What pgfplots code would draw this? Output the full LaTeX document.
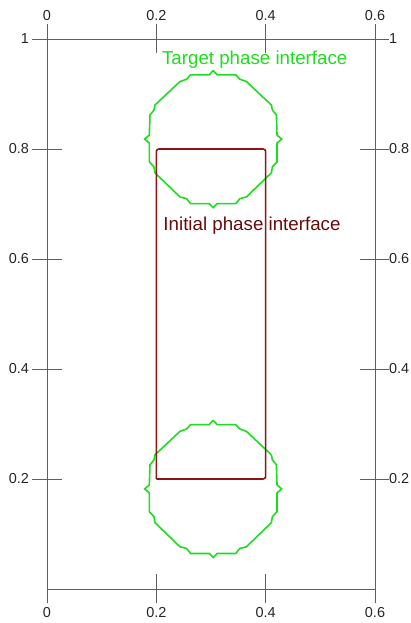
\documentclass[border=0pt]{standalone}
\usepackage{pgfplots}
\pgfplotsset{compat=1.18}
\usepackage{fontspec}
\setmainfont{Liberation Sans}
\definecolor{tgreen}{RGB}{30,220,30}
\definecolor{iline}{RGB}{140,20,20}
\definecolor{itext}{RGB}{105,10,10}
\definecolor{axgray}{RGB}{95,95,95}
\pgfplotstableread{
x y
0.304 0.3067
0.3113 0.2988
0.3454 0.2988
0.3527 0.2909
0.3648 0.2866
0.4104 0.2440
0.4123 0.2349
0.4196 0.2258
0.4208 0.1893
0.4293 0.1820
0.4208 0.1747
0.4208 0.1406
0.4123 0.1315
0.4104 0.1206
0.3648 0.0768
0.3527 0.0737
0.3454 0.0646
0.3113 0.0646
0.304 0.0573
0.2967 0.0646
0.2626 0.0646
0.2553 0.0737
0.2432 0.0768
0.1976 0.1206
0.1957 0.1315
0.1872 0.1406
0.1872 0.1747
0.1787 0.1820
0.1872 0.1893
0.1884 0.2258
0.1957 0.2349
0.1976 0.2440
0.2432 0.2866
0.2553 0.2909
0.2626 0.2988
0.2967 0.2988
0.304 0.3067
}\lowercircle
\pgfplotstableread{
x y
0.304 0.9427
0.3113 0.9348
0.3454 0.9348
0.3527 0.9269
0.3648 0.9226
0.4104 0.8800
0.4123 0.8709
0.4196 0.8618
0.4208 0.8253
0.4293 0.8180
0.4208 0.8107
0.4208 0.7766
0.4123 0.7675
0.4104 0.7566
0.3648 0.7128
0.3527 0.7097
0.3454 0.7006
0.3113 0.7006
0.304 0.6933
0.2967 0.7006
0.2626 0.7006
0.2553 0.7097
0.2432 0.7128
0.1976 0.7566
0.1957 0.7675
0.1872 0.7766
0.1872 0.8107
0.1787 0.8180
0.1872 0.8253
0.1884 0.8618
0.1957 0.8709
0.1976 0.8800
0.2432 0.9226
0.2553 0.9269
0.2626 0.9348
0.2967 0.9348
0.304 0.9427
}\uppercircle
\pgfplotstableread{
x y
0.2 0.2
0.4 0.2
0.4 0.8
0.2 0.8
0.2 0.2
}\rect
\begin{document}
\begin{tikzpicture}
\pgfplotsset{
  common/.style={
    scale only axis, width=328bp, height=550bp,
    xmin=0, xmax=0.6, ymin=0, ymax=1,
    xtick={0,0.2,0.4,0.6}, ytick={0.2,0.4,0.6,0.8,1},
    tick align=center, major tick length=29bp,
    xtick pos=both, ytick pos=both,
    ticklabel style={font=\fontsize{14.5}{16}\selectfont, text=black!85},
    /pgf/number format/assume math mode=true,
    clip=false,
  }
}
\begin{axis}[common, name=ax,
  axis line style={draw=axgray, line width=0.7bp},
  tick style={draw=axgray, line width=0.7bp},
  xticklabel pos=lower, yticklabel pos=left,
]
\addplot[tgreen, line width=1.6bp, mark=none] table[x=x,y=y] {\lowercircle};
\addplot[tgreen, line width=1.6bp, mark=none] table[x=x,y=y] {\uppercircle};
\addplot[iline, line width=1.6bp, mark=none, rounded corners=2.5bp] table[x=x,y=y] {\rect};
\node[text=tgreen, font=\fontsize{18.8}{20}\selectfont] at (axis cs:0.380,0.963) {Target phase interface};
\node[text=itext, font=\fontsize{18.8}{20}\selectfont] at (axis cs:0.375,0.660) {Initial phase interface};
\end{axis}
\begin{axis}[common,
  axis line style={draw=none},
  tick style={draw=none},
  xticklabel pos=upper, yticklabel pos=right,
  yticklabel style={xshift=-4bp},
]
\end{axis}
\pgfresetboundingbox
\path ([shift={(-47bp,-34bp)}]ax.south west) rectangle ([shift={(36bp,39bp)}]ax.north east);
\end{tikzpicture}
\end{document}
